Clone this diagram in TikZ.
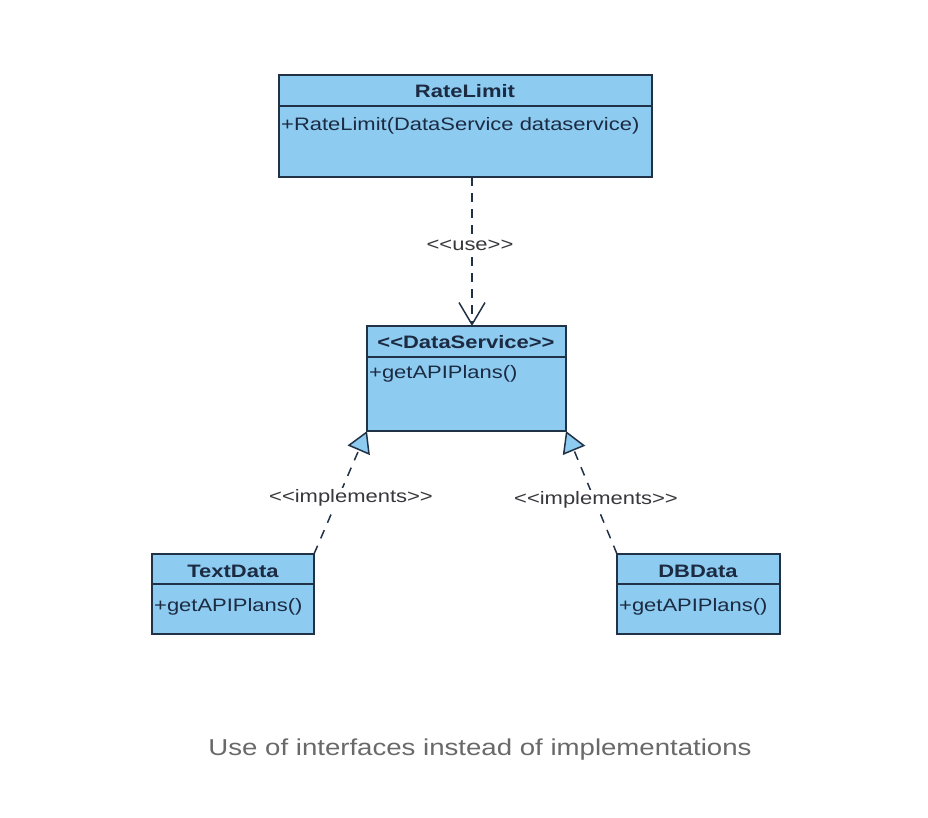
\documentclass[tikz,border=0pt]{standalone}
\usepackage{fontspec}
\setmainfont{Liberation Sans}
\newfontfamily\boxfont[FakeStretch=1.22]{Liberation Sans}
\newfontfamily\capfont[FakeStretch=1.2]{Liberation Sans}
\usetikzlibrary{arrows.meta}
\definecolor{boxblue}{RGB}{141,203,240}
\definecolor{boxline}{RGB}{34,50,70}
\definecolor{boxtext}{RGB}{28,42,66}
\definecolor{labelgray}{RGB}{55,55,60}
\definecolor{captiongray}{RGB}{105,105,105}
\newcommand\stlt{<\kern0pt<}
\newcommand\stgt{>\kern0pt>}
\begin{document}
\begin{tikzpicture}[x=1pt,y=-1pt,
  classbox/.style={draw=boxline, fill=boxblue, line width=1.6pt, inner sep=0pt, outer sep=0pt, anchor=north west},
  divider/.style={draw=boxline, line width=1.6pt},
  headtext/.style={font=\boxfont\fontsize{18}{20}\selectfont\bfseries, text=boxtext, inner sep=0pt, anchor=base},
  methtext/.style={font=\boxfont\fontsize{18}{20}\selectfont, text=boxtext, inner sep=0pt, anchor=base west},
  lbl/.style={font=\boxfont\fontsize{18}{20}\selectfont, text=labelgray, fill=white, inner sep=2pt},
  dep/.style={draw=boxline, line width=1.5pt, dash pattern=on 9pt off 7pt, -{Straight Barb[length=22pt, width=26pt]}},
  impl/.style={draw=boxline, line width=1.5pt, dash pattern=on 9pt off 8pt, -{Triangle[length=21pt, width=24pt, fill=boxblue]}},
  captionstyle/.style={font=\capfont\fontsize{23}{26}\selectfont, text=captiongray, inner sep=0pt}
]
\fill[white] (0,0) rectangle (928,818);
\useasboundingbox (0,0) rectangle (928,818);

% RateLimit
\node[classbox, minimum width=373pt, minimum height=102pt] (rl) at (279,75) {};
\draw[divider] (279,106) -- (652,106);
\node[headtext] (rlh) at (465,98) {RateLimit};
\node[methtext] (rlm) at (281,131) {+RateLimit(DataService dataservice)};

% DataService
\node[classbox, minimum width=199pt, minimum height=105pt] (ds) at (367,326) {};
\draw[divider] (367,357) -- (566,357);
\node[headtext] (dsh) at (466,348) {\stlt DataService\stgt};
\node[methtext] (dsm) at (369,378) {+getAPIPlans()};

% TextData
\node[classbox, minimum width=162pt, minimum height=80pt] (td) at (152,554) {};
\draw[divider] (152,584) -- (314,584);
\node[headtext] (tdh) at (233,577) {TextData};
\node[methtext] (tdm) at (154,611) {+getAPIPlans()};

% DBData
\node[classbox, minimum width=163pt, minimum height=80pt] (db) at (617,554) {};
\draw[divider] (617,584) -- (780,584);
\node[headtext] (dbh) at (698,577) {DBData};
\node[methtext] (dbm) at (619,611) {+getAPIPlans()};

% connectors
\draw[dep] (rl.south -| 472,0) -- (ds.north -| 472,0);
\node[lbl] (use) at (470,245) {\stlt use\stgt};

\draw[impl] (td.north east) -- (ds.south west);
\node[lbl] (impl1) at (351,498) {\stlt implements\stgt};

\draw[impl] (db.north west) -- (ds.south east);
\node[lbl] (impl2) at (596,500) {\stlt implements\stgt};

% caption
\node[captionstyle] (cap) at (480,750) {Use of interfaces instead of implementations};
\end{tikzpicture}
\end{document}
